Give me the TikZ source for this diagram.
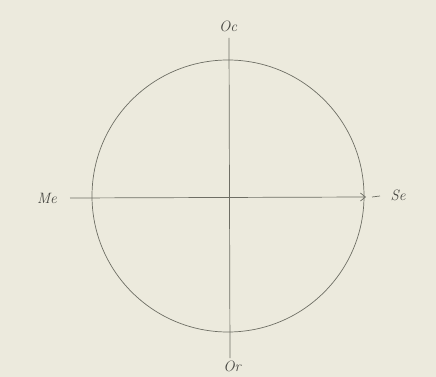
\documentclass[tikz,border=0pt]{standalone}
\usetikzlibrary{arrows.meta}
\definecolor{paper}{RGB}{236,234,221}
\definecolor{ink}{RGB}{110,110,100}
\definecolor{txt}{RGB}{70,70,65}
\begin{document}
\begin{tikzpicture}[x=1pt,y=-1pt,
  lbl/.style={text=txt,font=\itshape\fontsize{15}{15}\selectfont,inner sep=0pt},
  thin line/.style={draw=ink,line width=0.7pt}]
\fill[paper] (0,0) rectangle (436,377);
\useasboundingbox (0,0) rectangle (436,377);
\node[thin line,circle,minimum size=272pt,inner sep=0pt] (c) at (228,196) {};
\coordinate (vt) at (229,38);
\coordinate (vb) at (230,358);
\coordinate (hl) at (70,198);
\coordinate (hr) at (366,197);
\coordinate (d1) at (372,197);
\coordinate (d2) at (380,196);
\draw[thin line] (vt) -- (vb);
\draw[thin line,-{Straight Barb[length=5pt,width=8pt]}] (hl) -- (hr);
\draw[thin line] (d1) -- (d2);
\node[lbl] (oc) at (228,26) {Oc};
\node[lbl] (me) at (47,198) {Me};
\node[lbl] (se) at (398,195) {Se};
\node[lbl] (or) at (232,366) {Or};
\end{tikzpicture}
\end{document}
